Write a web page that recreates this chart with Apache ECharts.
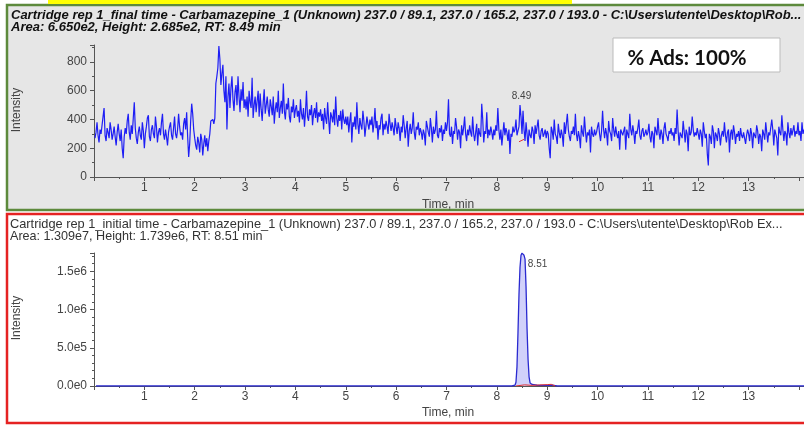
<!DOCTYPE html>
<html><head><meta charset="utf-8">
<script src="https://cdn.jsdelivr.net/npm/echarts@6/dist/echarts.min.js"></script>
<style>html,body{margin:0;padding:0;background:#fff}#c{width:804px;height:426px}</style>
</head><body><div id="c"></div>
<script>
// ---- data ----
const topStart = 0.02, topStep = 0.02;
const topValues = [
 270,310,380,290,240,330,300,360,420,480,290,250,340,310,270,380,330,260,300,350,280,220,310,370,300,
 250,330,200,130,280,340,300,390,440,310,260,360,300,410,520,340,270,230,310,350,290,260,380,320,200,
 300,350,410,430,280,250,330,360,300,270,420,350,240,310,340,290,380,440,300,260,330,280,220,310,350,
 380,290,260,340,420,300,270,330,440,350,290,310,260,370,410,330,450,280,140,230,390,510,440,330,270,
 220,190,280,240,170,300,260,150,230,290,210,270,180,250,300,390,380,400,370,410,650,700,760,910,820,
 640,720,780,600,520,700,330,560,650,480,620,700,540,460,590,640,500,700,560,450,610,530,660,480,540,
 470,560,420,600,520,480,690,410,500,560,450,530,600,420,580,470,390,520,610,440,500,560,470,420,540,
 490,430,560,370,470,520,450,600,410,480,530,440,650,460,400,510,470,550,420,380,490,450,540,410,470,
 500,420,460,380,540,440,400,480,350,450,600,420,390,470,430,500,360,440,480,410,520,380,450,420,470,
 390,440,330,480,410,370,520,400,300,450,420,380,470,360,560,410,350,430,390,460,330,470,400,370,420,
 360,420,310,390,450,240,380,350,420,330,520,370,300,410,360,330,460,390,280,350,420,370,330,400,360,
 420,310,370,480,340,390,260,360,330,410,440,290,370,330,390,350,300,440,370,320,380,340,290,410,350,
 300,380,340,250,350,310,430,360,270,340,390,210,320,370,300,340,450,310,260,350,330,380,290,340,310,
 260,330,300,220,390,350,310,280,410,340,240,350,300,330,460,290,270,340,310,360,250,330,300,380,320,
 380,540,300,280,350,230,320,300,410,350,260,330,310,200,360,290,340,420,300,250,330,290,360,310,280,
 420,300,250,310,370,220,340,300,280,510,400,240,320,300,450,270,330,290,350,310,260,330,290,360,320,
 480,330,260,330,220,300,380,290,340,310,250,330,160,300,280,350,310,330,400,290,320,350,500,420,300,
 460,330,250,380,300,210,330,290,270,350,320,230,360,300,310,400,290,260,320,340,280,300,330,270,320,
 300,200,130,350,320,260,400,300,280,230,370,310,270,330,290,210,380,300,290,440,330,280,250,320,300,
 350,290,440,300,250,320,280,200,360,310,280,420,320,240,310,290,330,170,350,300,280,330,290,310,350,
 380,300,250,320,460,330,270,340,300,220,390,320,300,250,410,330,280,350,300,270,320,190,330,310,290,
 300,350,190,330,300,270,440,330,290,360,310,230,320,300,340,400,290,260,320,340,280,300,330,290,310,
 370,280,240,320,300,200,350,320,290,410,310,260,330,300,230,340,380,300,280,250,320,300,340,290,310,
 250,340,300,470,320,220,310,290,270,390,320,240,330,300,180,350,290,310,420,330,280,310,290,340,300,
 260,330,300,210,380,320,270,300,160,80,300,280,230,360,320,200,310,290,250,340,300,220,290,320,280,
 380,290,240,310,330,170,300,330,260,360,310,230,300,280,320,250,340,290,270,310,300,230,290,330,300,
 250,340,300,200,310,290,270,360,320,230,300,280,180,330,300,260,380,310,240,310,290,280,400,330,220,
 330,300,270,150,350,310,290,430,330,250,320,300,220,380,310,270,340,290,300,360,280,320,300,380,290,
 320,250,380,300,330
];
const topRedT = [8.44, 8.54];
const topRedV = [245, 262];
const topPeakLabel = {t: 8.49, v: 560, text: '8.49'};

const botTimes  = [0.04, 8.30, 8.36, 8.38, 8.40, 8.42, 8.44, 8.46, 8.48, 8.50, 8.52, 8.54, 8.56, 8.58, 8.60, 8.62, 8.64, 8.66, 8.70, 8.80, 9.00, 9.10, 9.20, 14.10];
const botValues = [0, 0, 10000, 50000, 250000, 700000, 1200000, 1550000, 1710000, 1739000, 1730000, 1710000, 1660000, 1300000, 750000, 350000, 120000, 40000, 20000, 10000, 8000, 12000, 0, 0];
const botRedT = [8.38, 8.55, 8.70, 8.85, 9.00, 9.08, 9.16];
const botRedV = [0, 15000, 8000, 14000, 18000, 22000, 0];
const botPeakLabel = {t: 8.51, v: 1739000, text: '8.51'};

const xTickLabels = ['1','2','3','4','5','6','7','8','9','10','11','12','13'];
const yTopTickLabels = ['0','200','400','600','800'];
const yBotTickLabels = ['0.0e0','5.0e5','1.0e6','1.5e6'];

const topTitle1 = 'Cartridge rep 1_final time - Carbamazepine_1 (Unknown) 237.0 / 89.1, 237.0 / 165.2, 237.0 / 193.0 - C:\\Users\\utente\\Desktop\\Rob...';
const topTitle2 = 'Area: 6.650e2, Height: 2.685e2, RT: 8.49 min';
const botTitle1 = 'Cartridge rep 1_initial time - Carbamazepine_1 (Unknown) 237.0 / 89.1, 237.0 / 165.2, 237.0 / 193.0 - C:\\Users\\utente\\Desktop\\Rob Ex...';
const botTitle2 = 'Area: 1.309e7, Height: 1.739e6, RT: 8.51 min';
const adsText = '% Ads: 100%';

// ---- build ----
const topData = topValues.map((v, i) => [+(topStart + i * topStep).toFixed(2), v]);
const botData = botTimes.map((t, i) => [t, botValues[i]]);
const F = 'Liberation Sans, Arial, sans-serif';

function xAxisCfg(gi) {
  return {
    type: 'value', gridIndex: gi, min: 0, max: 14.1, interval: 1,
    axisLine: {show: true, lineStyle: {color: '#555', width: 1}},
    axisTick: {show: true, length: 4, lineStyle: {color: '#555'}},
    minorTick: {show: true, splitNumber: 2, length: 2, lineStyle: {color: '#555'}},
    splitLine: {show: false},
    axisLabel: {color: '#444', fontSize: 12, fontFamily: F, margin: 5, showMinLabel: false, showMaxLabel: false,
      formatter: v => { const k = Math.round(v) - 1; return (Math.abs(v - Math.round(v)) < 1e-6 && xTickLabels[k]) ? xTickLabels[k] : ''; }}
  };
}

const chart = echarts.init(document.getElementById('c'), null, {renderer: 'canvas'});
chart.setOption({
  animation: false,
  backgroundColor: '#fff',
  grid: [
    {left: 94, top: 45, width: 710, height: 132, containLabel: false},
    {left: 94, top: 253, width: 710, height: 133, containLabel: false}
  ],
  xAxis: [xAxisCfg(0), xAxisCfg(1)],
  yAxis: [
    {type: 'value', gridIndex: 0, min: 0, max: 918, interval: 200,
     axisLine: {show: true, lineStyle: {color: '#555'}},
     axisTick: {show: true, length: 4, lineStyle: {color: '#555'}},
     minorTick: {show: true, splitNumber: 2, length: 2, lineStyle: {color: '#555'}},
     splitLine: {show: false},
     axisLabel: {color: '#444', fontSize: 12, fontFamily: F, margin: 7, showMaxLabel: false,
       formatter: v => yTopTickLabels[Math.round(v / 200)] || ''}},
    {type: 'value', gridIndex: 1, min: 0, max: 1740000, interval: 500000,
     axisLine: {show: true, lineStyle: {color: '#555'}},
     axisTick: {show: true, length: 4, lineStyle: {color: '#555'}},
     minorTick: {show: true, splitNumber: 5, length: 2, lineStyle: {color: '#555'}},
     splitLine: {show: false},
     axisLabel: {color: '#444', fontSize: 12, fontFamily: F, margin: 7, showMaxLabel: false,
       formatter: v => yBotTickLabels[Math.round(v / 500000)] || ''}}
  ],
  series: [
    {type: 'line', xAxisIndex: 0, yAxisIndex: 0, data: topData, symbol: 'none', z: 3,
     lineStyle: {color: '#1e1ef5', width: 1.2},
     markPoint: {symbol: 'circle', symbolSize: 0, silent: true,
       data: [{coord: [topPeakLabel.t, topPeakLabel.v], label: {show: true, formatter: topPeakLabel.text, color: '#444', fontSize: 10, fontFamily: F}}]}},
    {type: 'line', xAxisIndex: 0, yAxisIndex: 0, data: topRedT.map((t, i) => [t, topRedV[i]]), symbol: 'none', z: 4,
     lineStyle: {color: '#e03030', width: 1}},
    {type: 'line', xAxisIndex: 1, yAxisIndex: 1, data: botData, symbol: 'none', z: 3,
     lineStyle: {color: '#2a2ad0', width: 1.3},
     areaStyle: {color: 'rgba(110,110,240,0.45)'},
     markPoint: {symbol: 'circle', symbolSize: 0, silent: true,
       data: [{coord: [botPeakLabel.t, botPeakLabel.v], label: {show: true, formatter: botPeakLabel.text, color: '#444', fontSize: 10, fontFamily: F, offset: [15, 11]}}]}},
    {type: 'line', xAxisIndex: 1, yAxisIndex: 1, data: botRedT.map((t, i) => [t, botRedV[i]]), symbol: 'none', z: 4,
     lineStyle: {color: '#e03030', width: 1}}
  ],
  graphic: {elements: [
    {type: 'rect', z: -10, shape: {x: 7, y: 5, width: 800, height: 205}, style: {fill: '#e6e6e6', stroke: '#5d8a3c', lineWidth: 2.5}},
    {type: 'rect', z: -10, shape: {x: 48, y: 0, width: 524, height: 4}, style: {fill: '#ffff00'}},
    {type: 'rect', z: -10, shape: {x: 7, y: 214, width: 800, height: 209}, style: {fill: '#ffffff', stroke: '#e52222', lineWidth: 2.5}},
    {type: 'text', z: 10, x: 11, y: 15, style: {text: topTitle1, font: 'italic bold 13px ' + F, fill: '#111', verticalAlign: 'middle'}},
    {type: 'text', z: 10, x: 11, y: 27, style: {text: topTitle2, font: 'italic bold 13px ' + F, fill: '#111', verticalAlign: 'middle'}},
    {type: 'text', z: 10, x: 10, y: 224, style: {text: botTitle1, font: '12.8px ' + F, fill: '#333', verticalAlign: 'middle'}},
    {type: 'text', z: 10, x: 10, y: 237, style: {text: botTitle2, font: '12.6px ' + F, fill: '#333', verticalAlign: 'middle'}},
    {type: 'rect', z: 10, shape: {x: 613, y: 38, width: 167, height: 34}, style: {fill: '#fff', stroke: '#bbb', lineWidth: 1}},
    {type: 'text', z: 11, x: 687, y: 58, style: {text: adsText, font: 'bold 20.5px Lato, sans-serif', fill: '#111', align: 'center', verticalAlign: 'middle'}},
    {type: 'text', z: 10, x: 17, y: 110, rotation: Math.PI / 2, style: {text: 'Intensity', font: '12px ' + F, fill: '#444', align: 'center', verticalAlign: 'middle'}},
    {type: 'text', z: 10, x: 17, y: 318, rotation: Math.PI / 2, style: {text: 'Intensity', font: '12px ' + F, fill: '#444', align: 'center', verticalAlign: 'middle'}},
    {type: 'text', z: 10, x: 448, y: 205, style: {text: 'Time, min', font: '12px ' + F, fill: '#444', align: 'center', verticalAlign: 'middle'}},
    {type: 'text', z: 10, x: 448, y: 413, style: {text: 'Time, min', font: '12px ' + F, fill: '#444', align: 'center', verticalAlign: 'middle'}}
  ]}
});
</script></body></html>
